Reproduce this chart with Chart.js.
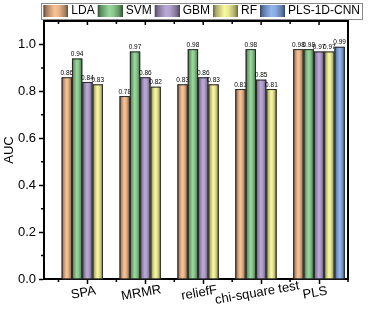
<!DOCTYPE html>
<html><head><meta charset="utf-8">
<script src="https://cdn.jsdelivr.net/npm/chart.js@4.4.0/dist/chart.umd.min.js"></script>
<style>html,body{margin:0;padding:0;background:#fff}#wrap{width:371px;height:311px}</style>
</head><body><div id="wrap"><canvas id="c" width="371" height="311"></canvas></div>
<script>
// ---- data ----
const categories = ['SPA', 'MRMR', 'reliefF', 'chi-square test', 'PLS'];
const seriesNames = ['LDA', 'SVM', 'GBM', 'RF', 'PLS-1D-CNN'];
const ldaValues = [0.86, 0.78, 0.83, 0.81, 0.98];
const svmValues = [0.94, 0.97, 0.98, 0.98, 0.98];
const gbmValues = [0.84, 0.86, 0.86, 0.85, 0.97];
const rfValues  = [0.83, 0.82, 0.83, 0.81, 0.97];
const cnnValues = [null, null, null, null, 0.99];
const yTickValues = [0.0, 0.2, 0.4, 0.6, 0.8, 1.0];
const yMinorValues = [0.1, 0.3, 0.5, 0.7, 0.9];

// ---- styles ----
const lightColors = ['#fbc495', '#98d89a', '#bbaad8', '#f9f9a0', '#93b6ee'];
const darkColors  = ['#5e4434', '#2e4f30', '#4a4258', '#66663a', '#2f4466'];
const FONT = "'Liberation Sans', Arial, sans-serif";

function mix(a, b, t) {
  const pa = [1,3,5].map(i => parseInt(a.substr(i,2),16));
  const pb = [1,3,5].map(i => parseInt(b.substr(i,2),16));
  return 'rgb(' + pa.map((v,i) => Math.round(v + (pb[i]-v)*t)).join(',') + ')';
}
function makeGradient(ctx, x0, x1, light, dark) {
  const g = ctx.createLinearGradient(x0, 0, x1, 0);
  g.addColorStop(0, dark);
  g.addColorStop(0.12, mix(dark, light, 0.45));
  g.addColorStop(0.45, light);
  g.addColorStop(0.62, mix(light, dark, 0.1));
  g.addColorStop(0.88, mix(light, dark, 0.55));
  g.addColorStop(1, dark);
  return g;
}
function swatch(i) {
  const cv = document.createElement('canvas');
  cv.width = 28; cv.height = 12;
  const c = cv.getContext('2d');
  c.fillStyle = makeGradient(c, 3, 28, lightColors[i], darkColors[i]);
  c.fillRect(3, 0, 25, 12);
  return cv;
}
const swatches = seriesNames.map((n, i) => swatch(i));

const valueSets = [ldaValues, svmValues, gbmValues, rfValues, cnnValues];
const datasets = seriesNames.map((name, si) => ({
  label: name,
  data: valueSets[si].map((v, i) => v == null ? null : {x: i + 1, y: v}).filter(Boolean),
  backgroundColor: lightColors[si],
  borderColor: '#2a2a2a',
  borderWidth: 1,
  categoryPercentage: 0.89,
  barPercentage: 1.0
}));

const shadePlugin = {
  id: 'shade',
  afterDatasetsDraw(chart) {
    const ctx = chart.ctx;
    ctx.save();
    chart.data.datasets.forEach((ds, si) => {
      const meta = chart.getDatasetMeta(si);
      meta.data.forEach((el, di) => {
        const x0 = el.x - el.width / 2, x1 = el.x + el.width / 2;
        ctx.fillStyle = makeGradient(ctx, x0, x1, lightColors[si], darkColors[si]);
        ctx.fillRect(x0, el.y, el.width, el.base - el.y);
        ctx.strokeStyle = '#2a2a2a';
        ctx.lineWidth = 1;
        ctx.strokeRect(x0 + 0.5, el.y + 0.5, el.width - 1, el.base - el.y);
        // value label
        ctx.fillStyle = '#000';
        ctx.font = '6.5px ' + FONT;
        ctx.textAlign = 'center';
        ctx.textBaseline = 'bottom';
        ctx.fillText(ds.data[di].y.toFixed(2), el.x, el.y - 1);
      });
    });
    ctx.restore();
  },
  afterDraw(chart) {
    const ctx = chart.ctx;
    const a = chart.chartArea;
    const xs = chart.scales.x, ys = chart.scales.y;
    ctx.save();
    // frame (top & right)
    ctx.strokeStyle = '#000';
    ctx.lineWidth = 2;
    ctx.beginPath();
    ctx.moveTo(a.left, a.top); ctx.lineTo(a.right, a.top); ctx.lineTo(a.right, a.bottom);
    ctx.stroke();
    ctx.lineWidth = 1.5;
    ctx.beginPath();
    yMinorValues.forEach(v => {
      const y = ys.getPixelForValue(v);
      ctx.moveTo(a.left - 3, y); ctx.lineTo(a.left, y);
    });
    categories.forEach((c, i) => {
      const x = xs.getPixelForValue(i + 1);
      ctx.moveTo(x, a.top); ctx.lineTo(x, a.top + 4);
      const xm = xs.getPixelForValue(i + 1.5);
      ctx.moveTo(xm, a.top); ctx.lineTo(xm, a.top + 3);
      ctx.moveTo(xm, a.bottom); ctx.lineTo(xm, a.bottom + 3);
      if (i === 0) {
        const xb = xs.getPixelForValue(0.5);
        ctx.moveTo(xb, a.top); ctx.lineTo(xb, a.top + 3);
        ctx.moveTo(xb, a.bottom); ctx.lineTo(xb, a.bottom + 3);
      }
    });
    ctx.stroke();
    // x category labels, rotated
    ctx.fillStyle = '#000';
    ctx.font = '13px ' + FONT;
    ctx.textAlign = 'center';
    ctx.textBaseline = 'middle';
    categories.forEach((c, i) => {
      const x = xs.getPixelForValue(i + 1) - 4;
      ctx.save();
      ctx.translate(x, a.bottom + 14);
      ctx.rotate(-10 * Math.PI / 180);
      ctx.fillText(c, 0, 0);
      ctx.restore();
    });
    // legend frame
    const hb = chart.legend.legendHitBoxes;
    if (hb && hb.length) {
      const l = Math.min(...hb.map(h => h.left)) - 2;
      const r = Math.max(...hb.map(h => h.left + h.width)) + 2;
      const t = Math.min(...hb.map(h => h.top)) - 2;
      const b = Math.max(...hb.map(h => h.top + h.height)) + 2;
      ctx.strokeStyle = '#8a8a8a';
      ctx.lineWidth = 1;
      ctx.strokeRect(Math.round(l) + 0.5, Math.round(t) + 0.5, Math.round(r - l), Math.round(b - t));
    }
    ctx.restore();
  }
};

new Chart(document.getElementById('c'), {
  type: 'bar',
  data: { datasets },
  options: {
    responsive: false,
    animation: false,
    devicePixelRatio: 1,
    layout: { padding: { top: 2, right: 8, bottom: 0, left: 0 } },
    plugins: {
      tooltip: { enabled: false },
      legend: {
        position: 'top',
        align: 'end',
        maxHeight: 19,
        labels: {
          usePointStyle: true,
          pointStyleWidth: 22,
          boxHeight: 12,
          padding: 3,
          color: '#000',
          font: { size: 12, family: FONT },
          generateLabels: (chart) => seriesNames.map((n, i) => ({
            text: n, pointStyle: swatches[i], datasetIndex: i,
            fillStyle: lightColors[i], strokeStyle: 'transparent', lineWidth: 0, hidden: false
          }))
        }
      }
    },
    scales: {
      x: {
        type: 'linear',
        offset: false,
        min: 0.25, max: 5.5,
        afterBuildTicks: s => { s.ticks = categories.map((c, i) => ({ value: i + 1 })); },
        afterFit: s => { s.height = 32; },
        ticks: { display: false },
        grid: { offset: false, drawOnChartArea: false, drawTicks: true, tickLength: 5, tickColor: '#000', tickWidth: 1.5 },
        border: { display: true, color: '#000', width: 2 }
      },
      y: {
        min: 0, max: 1.1,
        afterBuildTicks: s => { s.ticks = yTickValues.map(v => ({ value: v })); },
        afterFit: s => { s.width = 44; },
        ticks: { callback: v => Number(v).toFixed(1), color: '#000', font: { size: 13, family: FONT }, padding: 3 },
        grid: { drawOnChartArea: false, drawTicks: true, tickLength: 5, tickColor: '#000', tickWidth: 1.5 },
        border: { display: true, color: '#000', width: 2 },
        title: { display: true, text: 'AUC', color: '#000', font: { size: 13, family: FONT }, padding: { top: 2, bottom: 0 } }
      },
      y2: {
        position: 'right',
        display: true,
        afterFit: s => { s.width = 15; },
        ticks: { display: false },
        grid: { display: false, drawTicks: false },
        border: { display: false }
      }
    }
  },
  plugins: [shadePlugin]
});
</script>
</body></html>
